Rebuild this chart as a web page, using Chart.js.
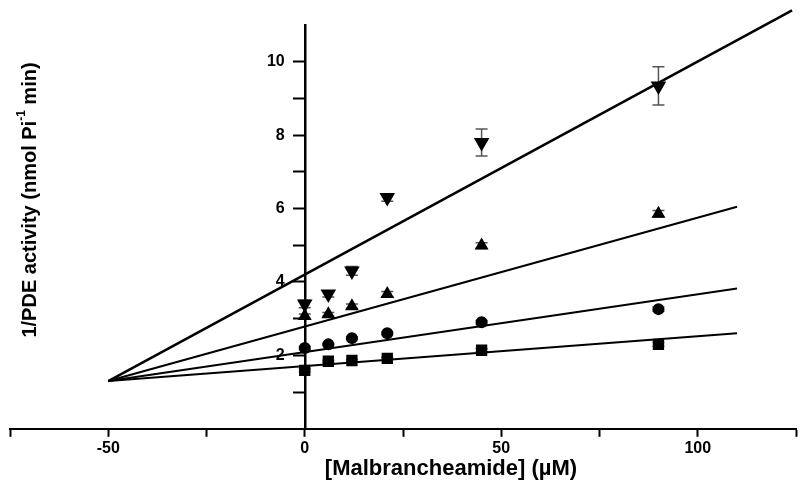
<!DOCTYPE html>
<html>
<head>
<meta charset="utf-8">
<script src="https://cdn.jsdelivr.net/npm/chart.js@4.4.1/dist/chart.umd.min.js"></script>
<style>
  html, body { margin: 0; padding: 0; background: #fff; }
  #wrap { width: 805px; height: 489px; }
</style>
</head>
<body>
<div id="wrap"><canvas id="myChart" width="805" height="489"></canvas></div>
<script>
// inhibitor concentrations (uM)
const conc = [0, 6, 12, 21, 45, 90];

// 1/PDE activity for the four substrate levels
const squares = [1.59, 1.84, 1.86, 1.92, 2.14, 2.30];
const circles = [2.20, 2.30, 2.47, 2.60, 2.90, 3.26];
const triUp = [3.07, 3.12, 3.34, 3.67, 4.99, 5.86];
const triDown = [3.40, 3.67, 4.30, 6.30, 7.80, 9.34];

// error bars (+/-)
const squaresErr = [0.04, 0.03, 0.03, 0.03, 0.04, 0.05];
const circlesErr = [0.04, 0.03, 0.04, 0.04, 0.05, 0.06];
const triUpErr = [0.06, 0.05, 0.06, 0.07, 0.08, 0.09];
const triDownErr = [0.10, 0.08, 0.12, 0.10, 0.37, 0.52];

// fitted lines, end points
const fitX = [-50, 110];
const fitTopX = [-50, 124];
const fitSquares = [1.3, 2.6];
const fitCircles = [1.3, 3.82];
const fitUp = [1.3, 6.05];
const fitDown = [1.3, 11.4];

const xTicks = [-50, 0, 50, 100];
const yTicks = [2, 4, 6, 8, 10];

const FONT = "'Liberation Sans', Arial, Helvetica, sans-serif";

const pts = (xs, ys) => xs.map((v, i) => ({x: v, y: ys[i]}));

const markerSet = (ys, style, radius, rot) => ({
   data: pts(conc, ys),
   pointStyle: style,
   pointRadius: radius,
   rotation: rot || 0,
   backgroundColor: '#000',
   borderColor: '#000',
   borderWidth: 0,
   showLine: false
});

const lineSet = (xs, ys, w) => ({
   data: pts(xs, ys),
   showLine: true,
   pointRadius: 0,
   borderColor: '#000',
   borderWidth: w,
   tension: 0,
   clip: false
});

const errorSets = [
   [triDown, triDownErr],
   [triUp, triUpErr],
   [circles, circlesErr],
   [squares, squaresErr]
];

const extras = {
   id: 'extras',
   beforeDatasetsDraw(chart) {
      const {ctx, scales: {x, y}} = chart;
      ctx.save();
      ctx.strokeStyle = '#555';
      ctx.lineWidth = 1.5;
      errorSets.forEach(([vals, errs]) => {
         vals.forEach((v, i) => {
            const px = x.getPixelForValue(conc[i]);
            const top = y.getPixelForValue(v + errs[i]);
            const bot = y.getPixelForValue(v - errs[i]);
            ctx.beginPath();
            ctx.moveTo(px, top); ctx.lineTo(px, bot);
            ctx.moveTo(px - 6, top); ctx.lineTo(px + 6, top);
            ctx.moveTo(px - 6, bot); ctx.lineTo(px + 6, bot);
            ctx.stroke();
         });
      });
      ctx.restore();
   },
   afterDraw(chart) {
      const {ctx, scales: {x, y}} = chart;
      ctx.save();
      ctx.fillStyle = '#000';
      // y tick labels, left of the axis line at x = 0
      ctx.font = 'bold 16px ' + FONT;
      ctx.textAlign = 'right';
      ctx.textBaseline = 'middle';
      const ax = x.getPixelForValue(0);
      yTicks.forEach(v => ctx.fillText(String(v), ax - 20, y.getPixelForValue(v)));
      // x title
      ctx.font = 'bold 22px ' + FONT;
      ctx.textAlign = 'center';
      ctx.fillText('[Malbrancheamide] (\u00b5M)', 451, 469);
      // y title, rotated, with superscript
      const a = '1/PDE activity (nmol Pi', sup = '-1', b = ' min)';
      ctx.font = 'bold 20px ' + FONT;
      const wa = ctx.measureText(a).width, wb = ctx.measureText(b).width;
      ctx.font = 'bold 12px ' + FONT;
      const ws = ctx.measureText(sup).width;
      const total = wa + ws + wb;
      ctx.translate(30, 200);
      ctx.rotate(-Math.PI / 2);
      ctx.textAlign = 'left';
      let cx = -total / 2;
      ctx.font = 'bold 20px ' + FONT;
      ctx.fillText(a, cx, 0);
      cx += wa;
      ctx.font = 'bold 12px ' + FONT;
      ctx.fillText(sup, cx, -8);
      cx += ws;
      ctx.font = 'bold 20px ' + FONT;
      ctx.fillText(b, cx, 0);
      ctx.restore();
   }
};

const ctx = document.getElementById('myChart').getContext('2d');
const chart = new Chart(ctx, {
   type: 'scatter',
   data: {
      datasets: [
         lineSet(fitTopX, fitDown, 2.5),
         lineSet(fitX, fitUp, 2),
         lineSet(fitX, fitCircles, 2),
         lineSet(fitX, fitSquares, 2),
         markerSet(squares, 'rect', 8),
         markerSet(circles, 'circle', 6),
         markerSet(triUp, 'triangle', 8),
         markerSet(triDown, 'triangle', 9, 180)
      ]
   },
   options: {
      responsive: false,
      animation: false,
      layout: {padding: {left: 10, right: 0, top: 25, bottom: 29}},
      plugins: {legend: {display: false}, tooltip: {enabled: false}},
      scales: {
         x: {
            type: 'linear',
            position: 'bottom',
            min: -75,
            max: 125,
            grid: {drawOnChartArea: false, drawTicks: true, tickLength: 8, tickColor: '#000', tickWidth: 2},
            border: {display: true, color: '#000', width: 2},
            ticks: {
               stepSize: 25,
               autoSkip: false,
               maxRotation: 0,
               padding: 2,
               color: '#000',
               font: {family: FONT, size: 16, weight: 'bold'},
               callback: v => xTicks.includes(v) ? String(v) : ''
            }
         },
         y: {
            type: 'linear',
            position: {x: 0},
            min: 0,
            max: 11,
            afterBuildTicks: axis => { axis.ticks = axis.ticks.filter(t => t.value > 0 && t.value < 11); },
            grid: {drawOnChartArea: false, drawTicks: true, tickLength: 11, tickColor: '#000', tickWidth: 2},
            border: {display: true, color: '#000', width: 2.5},
            ticks: {
               stepSize: 1,
               autoSkip: false,
               color: '#000',
               font: {family: FONT, size: 16, weight: 'bold'},
               callback: () => ''
            }
         }
      }
   },
   plugins: [extras]
});
</script>
</body>
</html>
